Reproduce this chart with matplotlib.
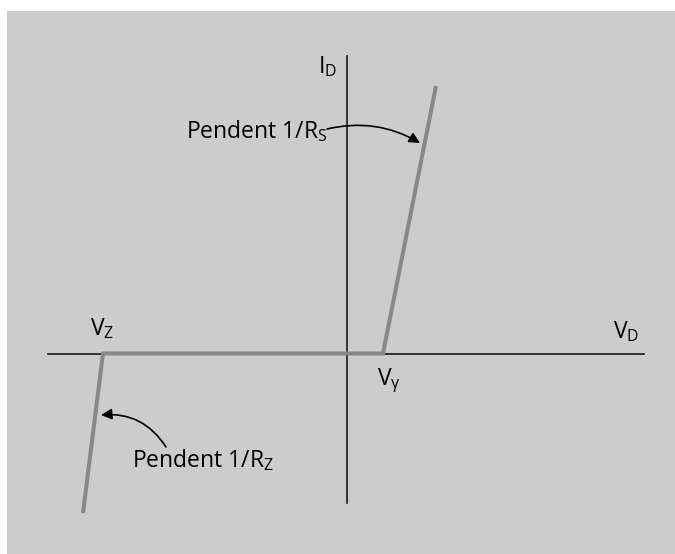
import matplotlib
matplotlib.use('Agg')
import matplotlib.pyplot as plt
from matplotlib.patches import Rectangle

plt.rcParams['font.family'] = ['Open Sans', 'DejaVu Sans']
plt.rcParams['mathtext.fontset'] = 'custom'
plt.rcParams['mathtext.rm'] = 'Open Sans'

# ── Característica lineal a trozos del diodo (unidades arbitrarias) ─────────
vd_curve = [-26.35, -24.35, 3.65, 8.95]   # V_D
id_curve = [-15.95, 0.0, 0.0, 26.75]      # I_D

# extremos de los ejes
vd_axis = [-29.85, 29.75]
id_axis = [-14.95, 29.75]

# ── Figura ──────────────────────────────────────────────────────────────────
W, H = 675, 554
fig = plt.figure(figsize=(W / 100, H / 100), dpi=100, facecolor='white')

ax = fig.add_axes([0, 0, 1, 1])
ax.set_facecolor('none')
ax.set_xlim(-34.65, 32.85)
ax.set_ylim(-20.05, 35.35)
ax.axis('off')

# fondo gris
ax.add_patch(Rectangle((7 / W, 0), 1 - 7 / W, (H - 11) / H,
                       transform=fig.transFigure, facecolor='#cccccc',
                       edgecolor='none', zorder=0))

# ejes
ax.plot(vd_axis, [0, 0], color='#1a1a1a', lw=1.2, zorder=2)
ax.plot([0, 0], id_axis, color='#1a1a1a', lw=1.2, zorder=2)

# curva
ax.plot(vd_curve, id_curve, color='#888888', lw=2.9, zorder=3,
        solid_joinstyle='miter', solid_capstyle='butt')

fs = 16.5
ax.text(-2.85, 28.05, r'I$_\mathregular{D}$', fontsize=fs, va='baseline')
ax.text(26.65, 1.55, r'V$_\mathregular{D}$', fontsize=fs, va='baseline')
ax.text(-25.65, 1.85, r'V$_\mathregular{Z}$', fontsize=fs, va='baseline')
ax.text(3.05, -3.15, r'V$_\mathregular{γ}$', fontsize=fs, va='baseline')

ax.text(-16.05, 21.55, r'Pendent 1/R$_\mathregular{S}$', fontsize=fs, va='baseline')
ax.text(-21.45, -11.35, r'Pendent 1/R$_\mathregular{Z}$', fontsize=fs, va='baseline')

arrow = dict(arrowstyle='-|>', color='black', lw=1.2, mutation_scale=16,
             shrinkA=0, shrinkB=0)
ax.annotate('', xy=(7.35, 21.05), xytext=(-1.95, 22.45),
            arrowprops=dict(connectionstyle='arc3,rad=-0.2', **arrow))
ax.annotate('', xy=(-24.55, -6.15), xytext=(-18.05, -9.35),
            arrowprops=dict(connectionstyle='arc3,rad=0.3', **arrow))

fig.savefig('out.png', dpi=100, facecolor='white')
